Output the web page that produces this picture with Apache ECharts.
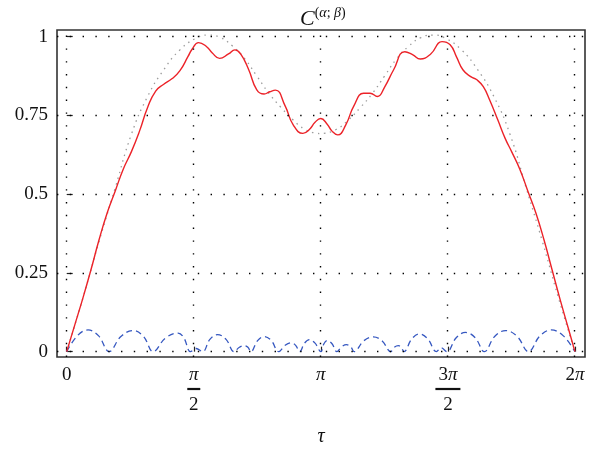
<!DOCTYPE html>
<html>
<head>
<meta charset="utf-8">
<script src="https://cdn.jsdelivr.net/npm/echarts@6/dist/echarts.min.js"></script>
<style>
html,body{margin:0;padding:0;background:#fff;}
#c{width:600px;height:449px;}
</style>
</head>
<body>
<div id="c"></div>
<script>
// ---- data ----
const xTickValues = [0, Math.PI / 2, Math.PI, 3 * Math.PI / 2, 2 * Math.PI];
const xTickLabels = ['0', 'π/2', 'π', '3π/2', '2π'];
const yTickValues = [0, 0.25, 0.5, 0.75, 1];
const yTickLabels = ['0', '0.25', '0.5', '0.75', '1'];

const redTau = [0, 0.1, 0.2, 0.3, 0.4, 0.5, 0.6, 0.7, 0.8, 0.9, 1.0, 1.1, 1.2, 1.3, 1.4, 1.5, 1.55, 1.63, 1.73, 1.8, 1.89, 2.0, 2.08, 2.15, 2.25, 2.35, 2.44, 2.51, 2.58, 2.7, 2.8, 2.92, 3.0, 3.07, 3.14, 3.22, 3.28, 3.35, 3.45, 3.55, 3.67, 3.75, 3.84, 3.93, 4.04, 4.18, 4.28, 4.37, 4.5, 4.64, 4.74, 4.82, 4.9, 5.0, 5.07, 5.15, 5.23, 5.33, 5.42, 5.5, 5.6, 5.7, 5.8, 5.9, 6.0, 6.1, 6.2, 6.283];
const redVal = [0, 0.085, 0.17, 0.26, 0.355, 0.44, 0.51, 0.58, 0.635, 0.70, 0.775, 0.827, 0.849, 0.866, 0.892, 0.937, 0.96, 0.981, 0.968, 0.948, 0.931, 0.945, 0.958, 0.945, 0.895, 0.831, 0.818, 0.825, 0.830, 0.78, 0.72, 0.693, 0.705, 0.728, 0.740, 0.722, 0.70, 0.688, 0.72, 0.78, 0.82, 0.82, 0.81, 0.84, 0.894, 0.952, 0.942, 0.929, 0.945, 0.984, 0.974, 0.935, 0.894, 0.872, 0.863, 0.841, 0.798, 0.735, 0.677, 0.635, 0.58, 0.51, 0.44, 0.355, 0.26, 0.165, 0.075, 0];

const grayTau = [0, 0.2, 0.4, 0.6, 0.8, 1.0, 1.2, 1.4, 1.6, 1.75, 1.9, 2.05, 2.2, 2.35, 2.5, 2.65, 2.8, 2.95, 3.1, 3.1416, 3.18, 3.33, 3.48, 3.63, 3.78, 3.93, 4.08, 4.23, 4.38, 4.53, 4.68, 4.88, 5.08, 5.28, 5.48, 5.68, 5.88, 6.08, 6.283];
const grayVal = [0, 0.17, 0.35, 0.52, 0.69, 0.81, 0.895, 0.958, 0.995, 1.005, 0.997, 0.97, 0.93, 0.875, 0.82, 0.775, 0.735, 0.705, 0.693, 0.692, 0.693, 0.705, 0.735, 0.775, 0.82, 0.875, 0.93, 0.97, 0.997, 1.005, 0.995, 0.958, 0.895, 0.81, 0.69, 0.52, 0.35, 0.17, 0];

const blueTau = [0, 0.13, 0.264, 0.395, 0.525, 0.67, 0.823, 0.95, 1.069, 1.22, 1.377, 1.45, 1.53, 1.60, 1.68, 1.77, 1.865, 1.97, 2.07, 2.135, 2.2, 2.24, 2.277, 2.36, 2.442, 2.53, 2.62, 2.70, 2.774, 2.83, 2.88, 2.94, 3.0, 3.07, 3.142, 3.18, 3.22, 3.28, 3.34, 3.40, 3.46, 3.51, 3.555, 3.67, 3.79, 3.90, 4.005, 4.05, 4.1, 4.135, 4.17, 4.265, 4.36, 4.465, 4.57, 4.63, 4.70, 4.815, 4.93, 5.05, 5.164, 5.29, 5.425, 5.57, 5.708, 5.85, 5.99, 6.14, 6.283];
const blueVal = [0, 0.05, 0.069, 0.05, 0, 0.048, 0.067, 0.048, 0, 0.043, 0.059, 0.043, 0, 0.01, 0, 0.039, 0.054, 0.039, 0, 0.014, 0.019, 0.014, 0, 0.035, 0.048, 0.035, 0, 0.02, 0.028, 0.02, 0, 0.027, 0.038, 0.027, 0, 0.025, 0.035, 0.025, 0, 0.016, 0.022, 0.016, 0, 0.034, 0.047, 0.034, 0, 0.014, 0.019, 0.014, 0, 0.04, 0.056, 0.04, 0, 0.012, 0, 0.044, 0.061, 0.044, 0, 0.048, 0.067, 0.048, 0, 0.05, 0.069, 0.05, 0];

const zip = (a, b) => a.map((v, i) => [v, b[i]]);

const SERIF = '"Liberation Serif", "DejaVu Serif", serif';
const TXT = '#111';

function xLabel(v) {
  let idx = 0, best = Infinity;
  xTickValues.forEach((t, i) => { const d = Math.abs(t - v); if (d < best) { best = d; idx = i; } });
  const s = xTickLabels[idx];
  if (s === '0') return '{n|0}';
  if (s === 'π') return '{ni|π}';
  if (s === '2π') return '{n|2}{ni|π}';
  if (s === 'π/2') return '{ni|π}\n{b1|}\n{d|2}';
  if (s === '3π/2') return '{n|3}{ni|π}\n{b3|}\n{d|2}';
  return s;
}
function yLabel(v) {
  let idx = 0, best = Infinity;
  yTickValues.forEach((t, i) => { const d = Math.abs(t - v); if (d < best) { best = d; idx = i; } });
  return yTickLabels[idx];
}

const chart = echarts.init(document.getElementById('c'), null, { renderer: 'canvas' });
const dotLine = { type: [1.4, 11.4], color: '#000', width: 1.4 };

chart.setOption({
  animation: false,
  backgroundColor: '#fff',
  title: {
    text: '{c|C}{p|(}{g|α}{p|; }{g|β}{p|)}',
    left: 295, top: 1,
    textStyle: {
      fontWeight: 'normal',
      rich: {
        c: { fontFamily: SERIF, fontSize: 22, fontStyle: 'italic', fontWeight: 'normal', lineHeight: 26, color: TXT },
        p: { fontFamily: SERIF, fontSize: 14, fontWeight: 'normal', lineHeight: 16, verticalAlign: 'top', color: TXT },
        g: { fontFamily: SERIF, fontSize: 14, fontStyle: 'italic', fontWeight: 'normal', lineHeight: 16, verticalAlign: 'top', color: TXT }
      }
    }
  },
  grid: { left: 57, right: 15, top: 30, bottom: 92, outerBoundsMode: 'none', containLabel: false, show: true, borderColor: '#333', borderWidth: 1.6, backgroundColor: 'transparent' },
  xAxis: {
    type: 'value', min: -0.12, max: 2 * Math.PI + 0.124,
    name: 'τ', nameLocation: 'middle', nameGap: 70,
    nameTextStyle: { fontFamily: SERIF, fontSize: 20, fontStyle: 'italic', color: TXT },
    axisLine: { show: false },
    splitLine: { show: false },
    axisTick: { show: true, inside: true, length: 5, customValues: xTickValues, lineStyle: { color: '#222', width: 1.2 } },
    axisLabel: {
      customValues: xTickValues, margin: 8, formatter: xLabel, color: TXT,
      rich: {
        n: { fontFamily: SERIF, fontSize: 19, lineHeight: 20, color: TXT },
        ni: { fontFamily: SERIF, fontSize: 19, fontStyle: 'italic', lineHeight: 20, color: TXT },
        b1: { width: 13, height: 2.2, lineHeight: 8, backgroundColor: '#111' },
        b3: { width: 25, height: 2.2, lineHeight: 8, backgroundColor: '#111' },
        d: { fontFamily: SERIF, fontSize: 19, lineHeight: 24, color: TXT }
      }
    }
  },
  yAxis: {
    type: 'value', min: -0.017, max: 1.021,
    axisLine: { show: false },
    splitLine: { show: false },
    axisTick: { show: true, inside: true, length: 6, customValues: yTickValues, lineStyle: { color: '#222', width: 1.2 } },
    axisLabel: { customValues: yTickValues, margin: 9, formatter: yLabel, fontFamily: SERIF, fontSize: 19, color: TXT }
  },
  series: [
    {
      type: 'line', data: zip(grayTau, grayVal), smooth: true, showSymbol: false, silent: true, z: 2,
      lineStyle: { type: [1.5, 4.5], color: '#9c9c9c', width: 1.3 },
      markLine: {
        silent: true, symbol: 'none', label: { show: false }, animation: false,
        lineStyle: dotLine,
        data: xTickValues.map(v => ({ xAxis: v })).concat(yTickValues.map(v => ({ yAxis: v })))
      }
    },
    {
      type: 'line', data: zip(blueTau, blueVal), smooth: 0.4, showSymbol: false, silent: true, z: 3,
      lineStyle: { type: [6, 4], color: '#3557c0', width: 1.3 }
    },
    {
      type: 'line', data: zip(redTau, redVal), smooth: true, showSymbol: false, silent: true, z: 4,
      lineStyle: { type: 'solid', color: '#ec2228', width: 1.4 }
    }
  ]
});
</script>
</body>
</html>
